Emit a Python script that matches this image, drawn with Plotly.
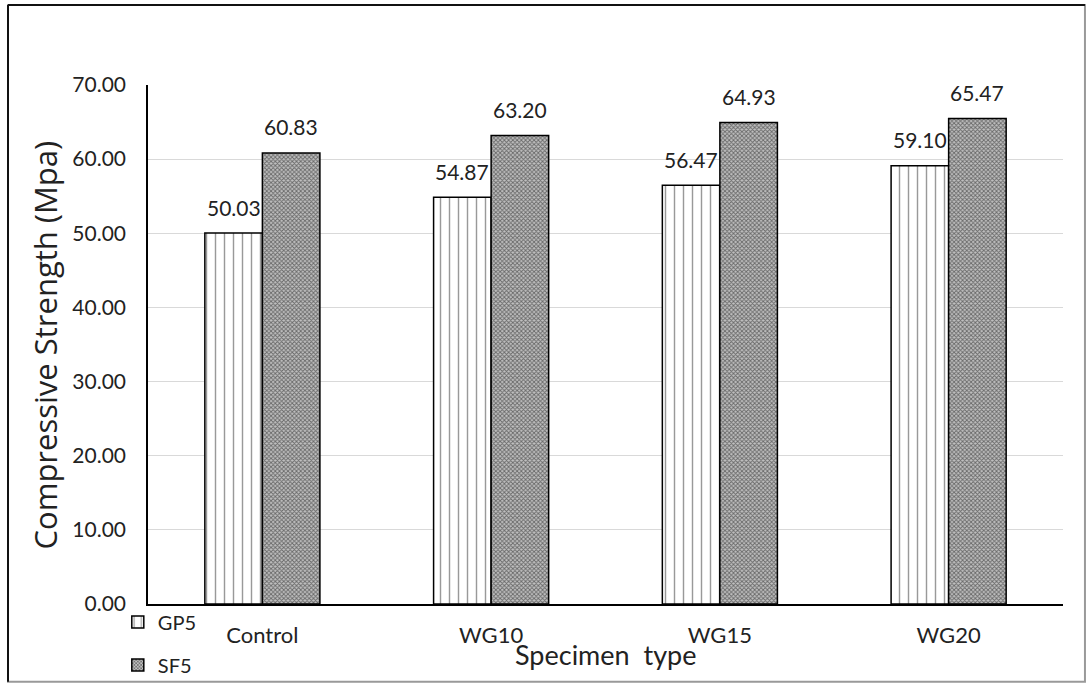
import plotly.graph_objects as go

categories = ["Control", "WG10", "WG15", "WG20"]
gp5 = [50.03, 54.87, 56.47, 59.10]
sf5 = [60.83, 63.20, 64.93, 65.47]
series_names = ["GP5", "SF5"]
y_ticks = [0, 10, 20, 30, 40, 50, 60, 70]

FONT = "Lato, 'Open Sans', sans-serif"

fig = go.Figure()
fig.add_trace(go.Bar(
    name=series_names[0], x=categories, y=gp5, legendgroup="a",
    marker=dict(color="white", line=dict(color="black", width=1.5),
                pattern=dict(shape="|", fgcolor="#333", bgcolor="white", size=9, solidity=0.16)),
))
fig.add_trace(go.Bar(
    name=series_names[1], x=categories, y=sf5, legendgroup="b",
    marker=dict(color="white", line=dict(color="black", width=1.5),
                pattern=dict(shape="x", fgcolor="#111", bgcolor="#c0c0c0", size=3, solidity=0.5)),
))

annotations = []
for i, c in enumerate(categories):
    for j, vals in enumerate([gp5, sf5]):
        annotations.append(dict(
            x=c, y=vals[i], xref="x", yref="y", text=f"{vals[i]:.2f}",
            showarrow=False, yanchor="bottom", yshift=11.5,
            xshift=(-28.8 if j == 0 else 28.8),
            font=dict(size=21, color="#222", family=FONT),
        ))

annotations.append(dict(text="Specimen  type", xref="paper", yref="paper", x=0.5, y=-0.098,
                        xanchor="center", yanchor="middle", showarrow=False,
                        font=dict(size=27, color="#222", family=FONT)))
annotations.append(dict(text="Compressive Strength (Mpa)", xref="paper", yref="paper", x=-0.1126, y=0.5,
                        xanchor="center", yanchor="middle", showarrow=False, textangle=-90,
                        font=dict(size=31, color="#222", family="'Open Sans', sans-serif")))

# page is 688 px tall; the figure is slightly taller so the legend box never forces a margin change
fig.update_layout(
    width=1092, height=700,
    margin=dict(l=148, r=29, t=85, b=96),
    paper_bgcolor="white", plot_bgcolor="white",
    font=dict(family=FONT, color="#222"),
    barmode="group", bargap=0.497, bargroupgap=0,
    showlegend=True,
    legend=dict(x=-0.033, y=0.003, xanchor="left", yanchor="top",
                orientation="v", font=dict(size=20, family=FONT),
                tracegroupgap=14, itemwidth=30, bgcolor="rgba(0,0,0,0)"),
    annotations=annotations,
    shapes=[
        dict(type="rect", xref="paper", yref="paper",
             x0=-0.153, x1=1.024, y0=-0.150, y1=1.154,
             line=dict(color="#999999", width=2), fillcolor="rgba(0,0,0,0)", layer="below"),
        dict(type="line", xref="paper", yref="paper",
             x0=-0.153, x1=1.024, y0=1.154, y1=1.154, line=dict(color="#111", width=2)),
        dict(type="line", xref="paper", yref="paper",
             x0=-0.153, x1=-0.153, y0=-0.150, y1=1.154, line=dict(color="#111", width=2)),
    ],
)
fig.update_xaxes(
    showline=True, linecolor="black", linewidth=1.5, automargin=False,
    tickfont=dict(size=22, family=FONT), ticks="", ticklabelstandoff=11,
)
fig.update_yaxes(
    range=[0, 70], tickvals=y_ticks, tickformat=".2f", automargin=False,
    showgrid=True, gridcolor="#d9d9d9", gridwidth=1,
    showline=True, linecolor="black", linewidth=1.5, zeroline=False,
    tickfont=dict(size=21, family=FONT), ticks="", ticklabelstandoff=16,
)

fig.write_html("out.html", config={"displayModeBar": False},
               post_script="document.body.style.margin='0';document.body.style.overflow='hidden';"
                           "document.documentElement.style.overflow='hidden';")
